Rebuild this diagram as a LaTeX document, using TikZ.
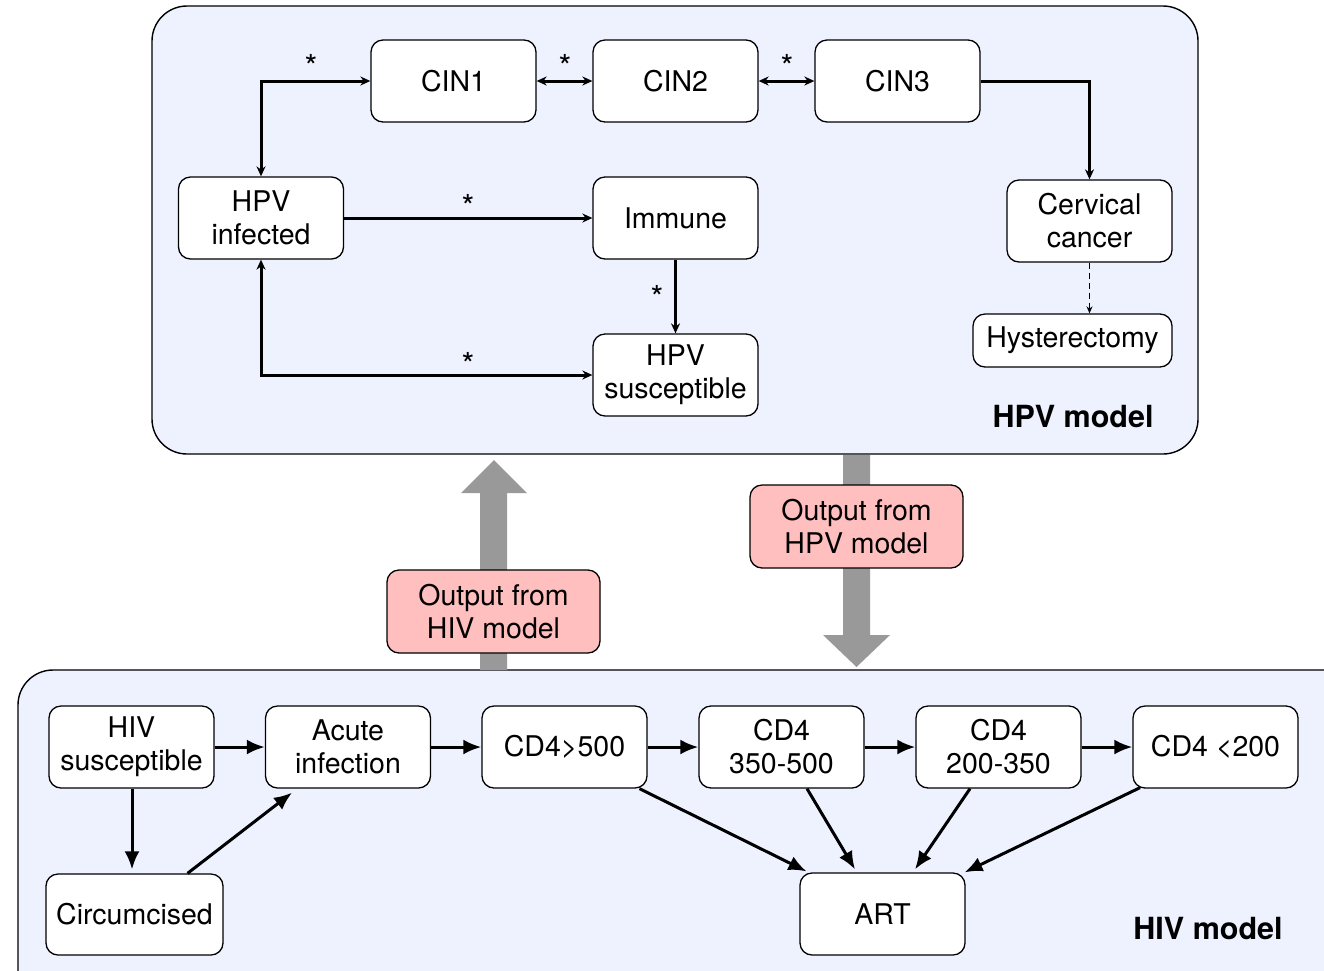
\documentclass[tikz,border=0pt]{standalone}
\usepackage{fontspec}
\setmainfont{TeX Gyre Heros}
\usetikzlibrary{arrows.meta,calc}
\definecolor{modelbg}{RGB}{238,242,255}
\definecolor{pinkbox}{RGB}{255,191,191}
\definecolor{bigarrow}{RGB}{153,153,153}
\begin{document}
\begin{tikzpicture}[x=1pt,y=-1pt,
  model/.style={draw=black, fill=modelbg, line width=1.4pt, rounded corners=35pt},
  box/.style={draw=black, fill=white, line width=1.3pt, rounded corners=12pt,
    minimum width=165pt, minimum height=82pt, inner sep=0pt, align=center,
    font=\fontsize{28.5}{33}\selectfont},
  outbox/.style={box, fill=pinkbox, minimum width=213pt, minimum height=83pt},
  star/.style={font=\fontsize{33}{33}\selectfont, inner sep=0pt},
  mlabel/.style={font=\fontsize{30.5}{30.5}\selectfont\bfseries, inner sep=0pt},
  tarr/.style={line width=3pt, {Stealth[length=10pt,width=9pt]}-{Stealth[length=10pt,width=9pt]}},
  tone/.style={line width=3pt, -{Stealth[length=10pt,width=9pt]}},
  harr/.style={line width=3pt, -{Latex[length=18pt,width=15pt]}},
]
\clip (0,0) rectangle (1324,970);
\fill[white] (0,0) rectangle (1324,970);

% model frames
\draw[model] (152,6) rectangle (1198,454);
\draw[model] (18,670) rectangle (1400,1040);

% big gray arrows
\fill[bigarrow] (480,670) -- (480,493) -- (461,493) -- (494,460) -- (527,493) -- (507,493) -- (507,670) -- cycle;
\fill[bigarrow] (843,455) -- (843,635) -- (823,635) -- (856.5,667) -- (890,635) -- (870,635) -- (870,455) -- cycle;

% output boxes
\node[outbox] (outhiv) at (493.5,611.5) {Output from\\HIV model};
\node[outbox] (outhpv) at (856.5,526.5) {Output from\\HPV model};

% HPV model nodes
\node[box] (cin1) at (453.5,81) {CIN1};
\node[box] (cin2) at (675.5,81) {CIN2};
\node[box] (cin3) at (897.5,81) {CIN3};
\node[box] (hpvinf) at (261,218) {HPV\\infected};
\node[box] (immune) at (675.5,218) {Immune};
\node[box] (hpvsus) at (675.5,375) {HPV\\susceptible};
\node[box] (cerv) at (1089.5,221) {Cervical\\cancer};
\node[box, minimum width=199pt, minimum height=53pt] (hyst) at (1072.5,340.5) {Hysterectomy};
\node[mlabel] (hpvlabel) at (1073,417) {HPV model};

% HPV connectors
\draw[tarr] (cin1.west) -| (hpvinf.north);
\draw[tarr] (cin1.east) -- (cin2.west);
\draw[tarr] (cin2.east) -- (cin3.west);
\draw[tone] (cin3.east) -| (cerv.north);
\draw[tone] (hpvinf.east) -- (immune.west);
\draw[tone] (immune.south) -- (hpvsus.north);
\draw[tarr] (hpvsus.west) -| (hpvinf.south);
\draw[line width=1.2pt, dashed, dash pattern=on 6pt off 4pt, -{Stealth[length=7pt,width=6pt]}] (cerv.south) -- ($(hyst.north)+(17,0)$);

\node[star] (s1) at (311,66) {*};
\node[star] (s2) at (565,66) {*};
\node[star] (s3) at (787,66) {*};
\node[star] (s4) at (468,206) {*};
\node[star] (s5) at (657,297) {*};
\node[star] (s6) at (468,364) {*};

% HIV model nodes
\node[box] (hivs) at (131.5,747) {HIV\\susceptible};
\node[box] (acute) at (348,747) {Acute\\infection};
\node[box] (cd4a) at (564.5,747) {CD4>500};
\node[box] (cd4b) at (781.5,747) {CD4\\350-500};
\node[box] (cd4c) at (998.5,747) {CD4\\200-350};
\node[box] (cd4d) at (1215.5,747) {CD4 <200};
\node[box, minimum width=177pt, minimum height=81pt] (circ) at (134.5,914.5) {Circumcised};
\node[box] (art) at (882.5,914) {ART};
\node[mlabel] (hivlabel) at (1208,929) {HIV model};

% HIV connectors
\draw[harr] (hivs.east) -- (acute.west);
\draw[harr] (acute.east) -- (cd4a.west);
\draw[harr] (cd4a.east) -- (cd4b.west);
\draw[harr] (cd4b.east) -- (cd4c.west);
\draw[harr] (cd4c.east) -- (cd4d.west);
\draw[harr] ($(hivs.south)+(0.5,0)$) -- ($(circ.north)+(-2.5,-4)$);
\draw[harr] ($(circ.north)+(53,0)$) -- ($(acute.south)+(-56,4)$);
\draw[harr] ($(cd4a.south)+(75,0)$) -- ($(art.north)+(-76,-1)$);
\draw[harr] ($(cd4b.south)+(25.5,0)$) -- ($(art.north)+(-27.5,-3)$);
\draw[harr] ($(cd4c.south)+(-28.5,0)$) -- ($(art.north)+(32.5,-3)$);
\draw[harr] ($(cd4d.south)+(-75.5,-1)$) -- ($(art.north)+(82,0)$);
\end{tikzpicture}
\end{document}
